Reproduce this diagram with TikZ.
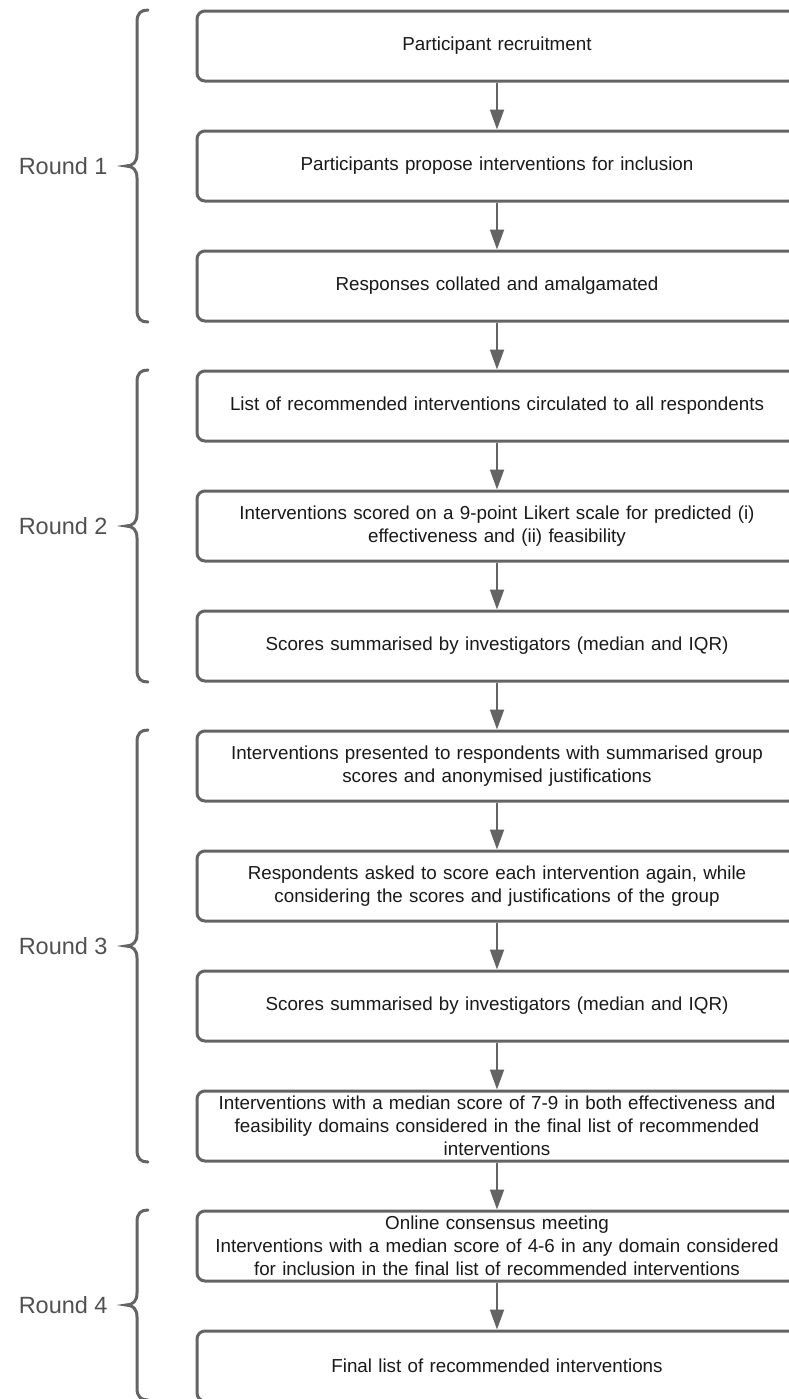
\documentclass[tikz,border=0pt]{standalone}
\usepackage{fontspec}
\setmainfont{Liberation Sans}
\usepackage{xcolor}
\usetikzlibrary{arrows.meta,positioning}
\definecolor{boxgrey}{RGB}{100,100,100}
\definecolor{lblgrey}{RGB}{80,80,80}
\newcommand{\stagebrace}[4]{% name, top, bottom, label
  \pgfmathsetmacro{\bmid}{(#2+#3)/2}
  \draw[bracestyle] (148,#2) .. controls (141,#2) and (137,#2+3) .. (137,#2+12)
    -- (137,\bmid-12) .. controls (137,\bmid-4) and (133,\bmid) .. (126,\bmid)
    .. controls (133,\bmid) and (137,\bmid+4) .. (137,\bmid+12)
    -- (137,#3-12) .. controls (137,#3-3) and (141,#3) .. (148,#3);
  \node[roundlabel,left=9pt] (#1) at (126,\bmid) {#4};
}
\tikzset{
  stepbox/.style={draw=boxgrey,line width=1.5pt,rounded corners=4pt,
    minimum width=300pt,minimum height=35pt,text width=292pt,align=center,
    inner sep=0pt,font=\fontsize{9.4}{11.5}\selectfont,text=black!90},
  flowarrow/.style={draw=boxgrey,fill=boxgrey,line width=1pt,
    -{Triangle[length=10pt,width=7pt]}},
  bracestyle/.style={draw=boxgrey,line width=1.5pt,line cap=round},
  roundlabel/.style={inner sep=0pt,text=lblgrey,font=\fontsize{11.75}{14}\selectfont}
}

\begin{document}
\begin{tikzpicture}[x=0.5pt,y=-0.5pt,node distance=23.5pt]
  \useasboundingbox (0,0) rectangle (788,1399);
  \node[stepbox] (b1) at (497,46) {Participant recruitment};
  \node[stepbox,below=of b1] (b2) {Participants propose interventions for inclusion};
  \node[stepbox,below=of b2] (b3) {Responses collated and amalgamated};
  \node[stepbox,below=of b3] (b4) {List of recommended interventions circulated to all respondents};
  \node[stepbox,below=of b4] (b5) {Interventions scored on a 9-point Likert scale for predicted (i)\\effectiveness and (ii) feasibility};
  \node[stepbox,below=of b5] (b6) {Scores summarised by investigators (median and IQR)};
  \node[stepbox,below=of b6] (b7) {Interventions presented to respondents with summarised group\\scores and anonymised justifications};
  \node[stepbox,below=of b7] (b8) {Respondents asked to score each intervention again, while\\considering the scores and justifications of the group};
  \node[stepbox,below=of b8] (b9) {Scores summarised by investigators (median and IQR)};
  \node[stepbox,below=of b9] (b10) {Interventions with a median score of 7-9 in both effectiveness and\\feasibility domains considered in the final list of recommended\\interventions};
  \node[stepbox,below=of b10] (b11) {Online consensus meeting\\Interventions with a median score of 4-6 in any domain considered\\for inclusion in the final list of recommended interventions};
  \node[stepbox,below=of b11] (b12) {Final list of recommended interventions};
  % arrows between steps
  \foreach \i [count=\j from 2] in {1,...,11}
    \draw[flowarrow] (b\i) -- (b\j);
  % round braces
  \stagebrace{r1}{10}{322}{Round 1}
  \stagebrace{r2}{370}{682}{Round 2}
  \stagebrace{r3}{730}{1162}{Round 3}
  \stagebrace{r4}{1210}{1400}{Round 4}
\end{tikzpicture}
\end{document}
